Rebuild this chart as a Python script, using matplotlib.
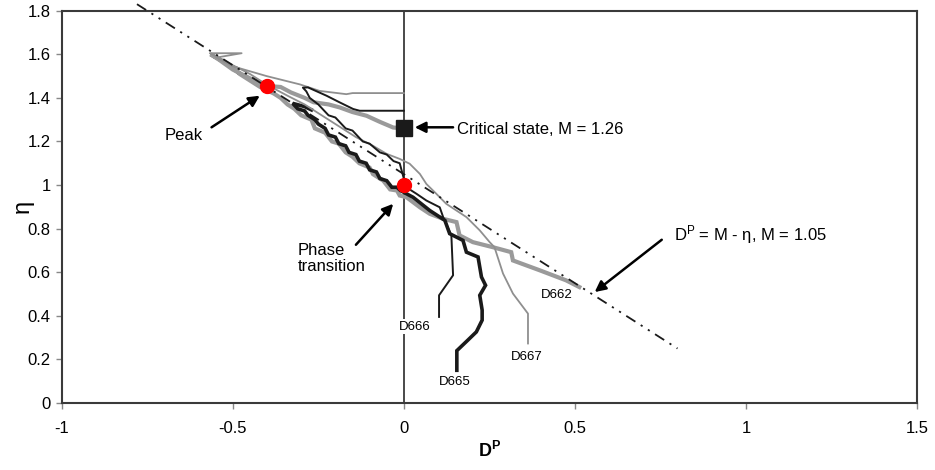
import matplotlib
matplotlib.use("Agg")
import matplotlib.pyplot as plt

# ── data ────────────────────────────────────────────────────────────────────
x_ticks = [-1, -0.5, 0, 0.5, 1, 1.5]
x_tick_labels = ["-1", "-0.5", "0", "0.5", "1", "1.5"]
y_ticks = [0, 0.2, 0.4, 0.6, 0.8, 1.0, 1.2, 1.4, 1.6, 1.8]
y_tick_labels = ["0", "0.2", "0.4", "0.6", "0.8", "1", "1.2", "1.4", "1.6", "1.8"]

# D662 thick gray
d662_x = [0.513, 0.474, 0.397, 0.319, 0.314, 0.26, 0.202, 0.163, 0.154, 0.115,
          0.076, 0.047, 0.008, -0.012, -0.02, -0.04, -0.06, -0.09, -0.10, -0.13,
          -0.15, -0.17, -0.19, -0.21, -0.23, -0.26, -0.27, -0.30, -0.32, -0.34,
          -0.36, -0.38, -0.42, -0.45, -0.48, -0.50, -0.53, -0.565,
          -0.54, -0.50, -0.45, -0.40, -0.36, -0.33, -0.29, -0.264, -0.22, -0.187,
          -0.15, -0.109, -0.07, -0.031, 0.0]
d662_y = [0.532, 0.563, 0.609, 0.654, 0.692, 0.715, 0.738, 0.769, 0.83, 0.845,
          0.868, 0.898, 0.944, 0.952, 0.975, 0.98, 1.02, 1.05, 1.08, 1.10,
          1.13, 1.15, 1.19, 1.20, 1.24, 1.26, 1.30, 1.32, 1.35, 1.37,
          1.40, 1.42, 1.45, 1.48, 1.51, 1.54, 1.57, 1.60,
          1.575, 1.53, 1.49, 1.455, 1.45, 1.425, 1.40, 1.38, 1.37, 1.356,
          1.335, 1.318, 1.29, 1.264, 1.26]

# D665 thick black
d665_x = [0.155, 0.155, 0.187, 0.212, 0.229, 0.229, 0.222, 0.239, 0.227, 0.217,
          0.183, 0.173, 0.134, 0.12, 0.076, 0.027, 0.008, -0.01, -0.02, -0.035,
          -0.05, -0.07, -0.08, -0.10, -0.11, -0.13, -0.14, -0.16, -0.17, -0.19,
          -0.20, -0.22, -0.23, -0.25, -0.26, -0.28, -0.29, -0.31, -0.325,
          -0.29, -0.27]
d665_y = [0.15, 0.24, 0.288, 0.326, 0.38, 0.426, 0.494, 0.54, 0.578, 0.67,
          0.692, 0.746, 0.777, 0.838, 0.883, 0.944, 0.96, 0.975, 0.99, 0.99,
          1.02, 1.03, 1.06, 1.07, 1.10, 1.11, 1.14, 1.15, 1.18, 1.19,
          1.22, 1.23, 1.26, 1.28, 1.30, 1.32, 1.34, 1.35, 1.375,
          1.36, 1.345]

# D666 thin black
d666_x = [0.103, 0.103, 0.144, 0.139, 0.115, 0.105, 0.066, 0.037, 0.017, 0.0,
          -0.012, -0.03, -0.05, -0.07, -0.10, -0.12, -0.15, -0.17, -0.20, -0.22,
          -0.25, -0.275, -0.285, -0.295, -0.28, -0.226, -0.187, -0.148, -0.129, 0.0]
d666_y = [0.395, 0.494, 0.586, 0.769, 0.853, 0.898, 0.929, 0.96, 0.98, 1.03,
          1.10, 1.11, 1.14, 1.15, 1.19, 1.20, 1.25, 1.26, 1.31, 1.32,
          1.37, 1.40, 1.43, 1.447, 1.448, 1.41, 1.379, 1.349, 1.341, 1.341]

# D667 thin gray
d667_x = [0.363, 0.363, 0.319, 0.29, 0.265, 0.251, 0.222, 0.183, 0.124, 0.095,
          0.066, 0.047, 0.017, -0.012, -0.05, -0.09, -0.14, -0.19, -0.24, -0.29,
          -0.34, -0.40, -0.45, -0.50, -0.567, -0.474, -0.548, -0.50, -0.401, -0.304,
          -0.246, -0.168, -0.15, 0.0]
d667_y = [0.273, 0.41, 0.502, 0.594, 0.715, 0.738, 0.792, 0.853, 0.914, 0.96,
          1.005, 1.051, 1.098, 1.12, 1.143, 1.18, 1.22, 1.27, 1.32, 1.37,
          1.41, 1.46, 1.51, 1.55, 1.605, 1.605, 1.585, 1.545, 1.50, 1.462,
          1.432, 1.417, 1.422, 1.422]

# stress-dilatancy line  D^P = M - eta
M_line = 1.05
line_x = [-0.78, 0.8]
line_y = [M_line - v for v in line_x]

peak_pt = (-0.4, 1.455)
phase_pt = (0.0, 1.0)
critical_pt = (0.0, 1.262)

BLACK = "#1a1a1a"
GRAY = "#9a9a9a"
FRAME = "#3a3a3a"

plt.rcParams.update({
    "font.family": ["Liberation Sans", "DejaVu Sans"],
    "font.size": 12,
    "mathtext.fontset": "custom",
    "mathtext.rm": "Liberation Sans",
    "mathtext.it": "Liberation Sans:italic",
    "mathtext.bf": "Liberation Sans:bold",
})

fig = plt.figure(figsize=(9.35, 4.7), dpi=100)
ax = fig.add_axes([0.066, 0.1426, 0.9147, 0.8346])

ax.axvline(0, color=FRAME, lw=1.3, zorder=1.5)

ax.plot(d662_x, d662_y, color=GRAY, lw=3.0, zorder=2, solid_joinstyle="miter")
ax.plot(d665_x, d665_y, color=BLACK, lw=2.6, zorder=3, solid_joinstyle="miter")
ax.plot(d667_x, d667_y, color="#8f8f8f", lw=1.3, zorder=3.5)
ax.plot(d666_x, d666_y, color=BLACK, lw=1.4, zorder=4)

ax.plot(line_x, line_y, color=BLACK, lw=1.3, dashes=(6, 3.5, 1.2, 3.5, 1.2, 3.5),
        clip_on=False, zorder=4.5)

ax.plot(*critical_pt, marker="s", ms=11, color=BLACK, zorder=6)
ax.plot(*peak_pt, marker="o", ms=10, color="red", mec="red", zorder=6)
ax.plot(*phase_pt, marker="o", ms=10, color="red", mec="red", zorder=6)

arrow = dict(arrowstyle="-|>", color="black", lw=1.8, mutation_scale=16,
             shrinkA=0, shrinkB=0)
ax.annotate("", xy=(-0.421, 1.41), xytext=(-0.562, 1.265), arrowprops=arrow)
ax.text(-0.643, 1.227, "Peak", ha="center", va="center")

ax.annotate("", xy=(-0.031, 0.914), xytext=(-0.140, 0.726), arrowprops=arrow)
ax.text(-0.31, 0.664, "Phase\ntransition", ha="left", va="center", linespacing=1.1)

ax.annotate("", xy=(0.032, 1.265), xytext=(0.144, 1.265), arrowprops=arrow)
ax.text(0.156, 1.255, "Critical state, M = 1.26", ha="left", va="center")

ax.annotate("", xy=(0.558, 0.509), xytext=(0.754, 0.749), arrowprops=arrow)
ax.text(0.789, 0.775, r"$\mathregular{D^P}$ = M - η, M = 1.05", ha="left", va="center")

lab = dict(fontsize=9.5, ha="center", va="center")
ax.text(0.446, 0.494, "D662", **lab)
ax.text(0.032, 0.349, "D666", bbox=dict(fc="white", ec="none", pad=1), zorder=5, **lab)
ax.text(0.359, 0.212, "D667", **lab)
ax.text(0.149, 0.097, "D665", **lab)

ax.set_xlim(-1, 1.5)
ax.set_ylim(0, 1.8)
ax.set_xticks(x_ticks)
ax.set_xticklabels(x_tick_labels)
ax.set_yticks(y_ticks)
ax.set_yticklabels(y_tick_labels)
ax.tick_params(axis="both", direction="out", length=4, width=1, color="#888888",
               labelsize=12)
ax.tick_params(axis="x", pad=9)
ax.tick_params(axis="y", pad=4)
for sp in ax.spines.values():
    sp.set_color(FRAME)
    sp.set_linewidth(1.5)

ax.set_xlabel(r"$\mathbf{D^P}$", fontsize=13, va="center")
ax.xaxis.set_label_coords(0.5, -0.122)
ax.set_ylabel("η", fontsize=17, va="center")
ax.yaxis.set_label_coords(-0.046, 0.5)

fig.savefig("out.png", dpi=100)
